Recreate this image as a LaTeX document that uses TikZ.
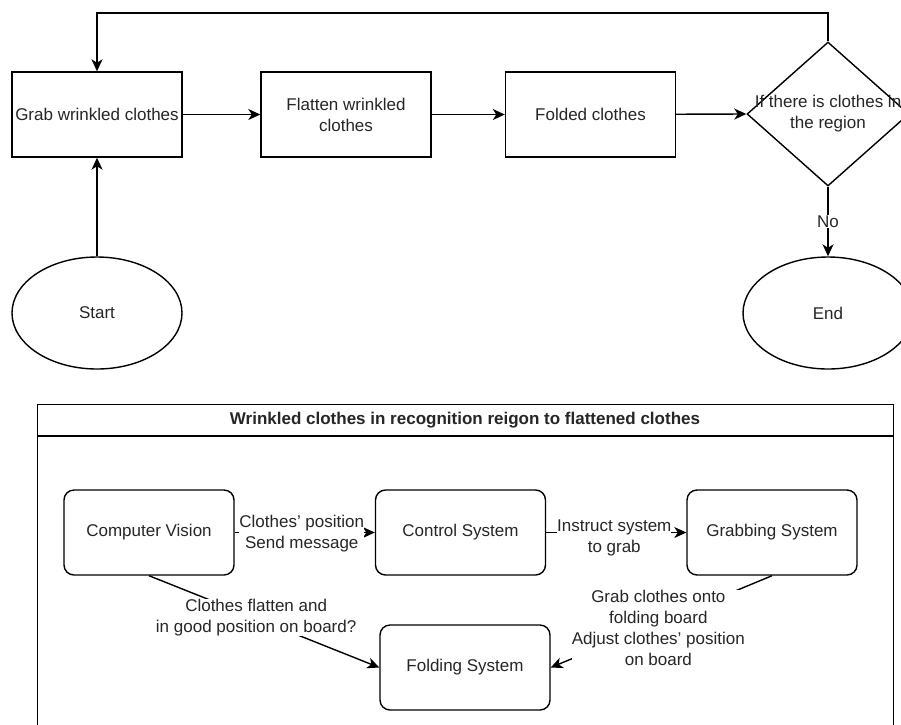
\documentclass[tikz,border=0pt]{standalone}
\usepackage{fontspec}
\setmainfont{Liberation Sans}
\usetikzlibrary{shapes.geometric,arrows.meta}
\begin{document}
\begin{tikzpicture}[x=1pt,y=-1pt,
  every node/.style={font=\fontsize{17}{21}\selectfont, text=black!85, align=center},
  lnk/.style={line width=1.4pt, draw=black},
  arr/.style={lnk, -{Stealth[length=12pt,width=11pt,inset=3.5pt]}},
  box/.style={draw=black, line width=1.4pt, minimum width=170pt, minimum height=85pt, inner sep=0pt},
  rbox/.style={box, rounded corners=10pt},
  oval/.style={draw=black, line width=1.4pt, ellipse, minimum width=170pt, minimum height=112pt, inner sep=0pt},
  lbl/.style={fill=white, inner sep=0pt}]
\useasboundingbox (0,0) rectangle (901,724);
\clip (0,0) rectangle (901,724);
\fill[white] (0,0) rectangle (901,724);

% top flowchart
\node[box] (grab) at (97,114.5) {Grab wrinkled clothes};
\node[box] (flat) at (346,114.5) {Flatten wrinkled\\clothes};
\node[box] (fold) at (590.5,114.5) {Folded clothes};
\node[draw=black, line width=1.4pt, diamond, minimum width=162pt, minimum height=144pt, inner sep=0pt] (dec) at (828,114) {};
\node[oval] (start) at (97,313) {Start};
\node[oval] (end) at (828,313) {End};
\coordinate (c1) at (828,13);
\coordinate (c2) at (97,13);

\draw[arr] (grab) -- (flat);
\draw[arr] (flat) -- (fold);
\draw[arr] (fold) -- (dec.west);
\draw[arr] (start) -- (grab);
\draw[arr] (dec.south) -- node[lbl, inner sep=1pt]{No} (end.north);
\draw[arr] (dec.north) -- (c1) -- (c2) -- (grab.north);
\node (dectext) at (828,114) {If there is clothes in\\the region};

% lane
\node[draw=black, line width=1.4pt, anchor=north west, minimum width=856pt, minimum height=340pt, inner sep=0pt] (lane) at (37,404) {};
\coordinate (h1) at (37,436);
\coordinate (h2) at (893,436);
\draw[lnk] (h1) -- (h2);
\node (title) at (465,420) {\bfseries Wrinkled clothes in recognition reigon to flattened clothes};

\node[rbox] (cv) at (149,532.5) {Computer Vision};
\node[rbox] (ctl) at (460.5,532.5) {Control System};
\node[rbox] (grb) at (772,532.5) {Grabbing System};
\node[rbox] (fsys) at (465,667.5) {Folding System};

\draw[arr] (cv) -- node[lbl, xshift=-3pt, yshift=-1pt]{Clothes' position\\Send message} (ctl);
\draw[arr] (ctl) -- node[lbl, xshift=-2pt, yshift=-5pt]{Instruct system\\to grab} (grb);
\draw[arr] (cv.south) -- node[lbl, xshift=-8pt, yshift=4pt]{Clothes flatten and\\in good position on board?} (fsys.west);
\draw[arr] (grb.south) -- node[lbl, xshift=-3pt, yshift=-6pt]{Grab clothes onto\\folding board\\Adjust clothes' position\\on board} (fsys.east);
\end{tikzpicture}
\end{document}
